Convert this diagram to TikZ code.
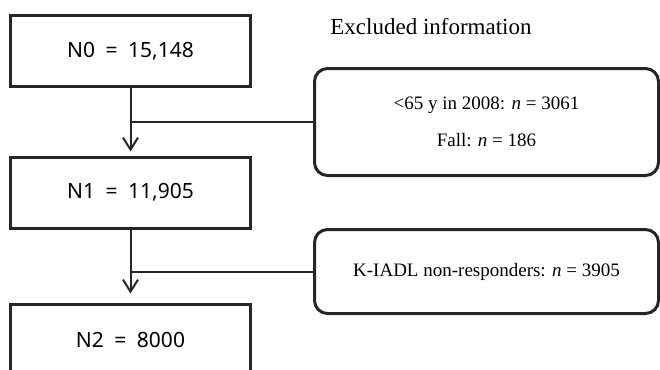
\documentclass[tikz,border=0pt]{standalone}
\usepackage{fontspec}
\setmainfont{Liberation Serif}
\newfontfamily\boxfont{Noto Sans}
\usetikzlibrary{arrows.meta}
\tikzset{
	countbox/.style={draw=black!85, line width=3pt, minimum width=240pt, minimum height=71pt, inner sep=0pt, font=\boxfont\fontsize{21}{25}\selectfont},
	exclbox/.style={draw=black!85, line width=3pt, rounded corners=13pt, minimum width=344pt, inner sep=0pt, align=center, font=\fontsize{19}{37}\selectfont},
	link/.style={draw=black!85, line width=2pt},
	flow/.style={link, -{Straight Barb[length=12pt,width=15pt]}}
}

\begin{document}
\begin{tikzpicture}[x=1pt,y=-1pt]
				\useasboundingbox (0,0) rectangle (660,369);
				
				\node[countbox] (n0) at (130.5,51) {N0\enspace=\enspace15,148};
				\node[countbox] (n1) at (130.5,192.5) {N1\enspace=\enspace11,905};
				\node[countbox] (n2) at (130.5,340) {N2\enspace=\enspace8000};
				
				\node[font=\fontsize{23}{28}\selectfont] (title) at (431,27) {Excluded information};
				\node[exclbox, minimum height=107pt] (excl1) at (486.5,122) {<65 y in 2008: {\itshape n} = 3061\\Fall: {\itshape n} = 186};
				\node[exclbox, minimum height=84pt] (excl2) at (486.5,271.5) {K-IADL non-responders: {\itshape n} = 3905};
				
				\draw[flow, shorten >=4pt] (n0) -- (n1);
				\draw[link] (excl1.west) -- (excl1.west -| n0.south);
				
				\draw[flow, shorten >=9.5pt] (n1) -- (n2);
				\draw[link] (excl2.west) -- (excl2.west -| n1.south);
			\end{tikzpicture}
\end{document}
